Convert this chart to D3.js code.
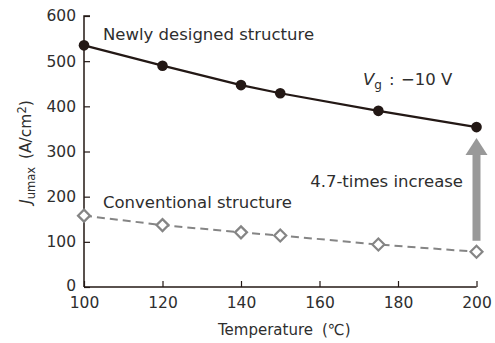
<!DOCTYPE html>
<html>
<head>
<meta charset="utf-8">
<script src="https://cdn.jsdelivr.net/npm/d3@7"></script>
<style>
body { margin: 0; background: #fff; }
text { font-family: "DejaVu Sans", Verdana, sans-serif; fill: #2e2e2e; }
</style>
</head>
<body>
<script>
// data
var temps = [100, 120, 140, 150, 175, 200];
var newValues = [535, 490, 447, 429, 390, 354];
var convValues = [158, 137, 121, 114, 94, 78];
var xTicks = [100, 120, 140, 160, 180, 200];
var yTicks = [0, 100, 200, 300, 400, 500, 600];

var width = 495,
    height = 343;

var svg = d3.select("body").append("svg")
    .attr("width", width)
    .attr("height", height);

var x = d3.scaleLinear().domain([100, 200]).range([84, 476.5]);
var y = d3.scaleLinear().domain([0, 600]).range([287, 16]);

var ink = "#231815",
    grey = "#858585",
    txt = "#2e2e2e";

// axes, ticks point inward
var xAxis = svg.append("g")
    .attr("transform", "translate(0," + y(0) + ")")
    .call(d3.axisBottom(x).tickValues(xTicks).tickSize(-6).tickPadding(10));
var yAxis = svg.append("g")
    .attr("transform", "translate(" + x(100) + ",0)")
    .call(d3.axisLeft(y).tickValues(yTicks).tickSize(-6).tickPadding(8));

[xAxis, yAxis].forEach(function(a) {
    a.select(".domain").attr("stroke", ink).attr("stroke-width", 1.5);
    a.selectAll(".tick line").attr("stroke", ink).attr("stroke-width", 1.2);
    a.selectAll(".tick text").style("font-size", "15.5px").attr("fill", txt)
        .style("font-family", "DejaVu Sans, Verdana, sans-serif");
});
xAxis.select(".domain").attr("d", "M" + x(100) + ",0H" + x(200));
yAxis.select(".domain").attr("d", "M0," + y(0) + "V" + y(600) + "h6");
yAxis.selectAll(".tick").filter(function(d) { return d === 0; })
    .select("text").attr("dy", "0.2em");

// arrow showing the increase
var ax = x(200), aTop = y(newValues[5]) + 11, aBot = y(convValues[5]) - 11;
svg.append("rect")
    .attr("x", ax - 4).attr("y", aTop + 14)
    .attr("width", 8).attr("height", aBot - aTop - 14)
    .attr("fill", "#999");
svg.append("path")
    .attr("d", "M" + ax + "," + aTop + "L" + (ax + 11) + "," + (aTop + 17) +
        "L" + (ax - 11) + "," + (aTop + 17) + "Z")
    .attr("fill", "#999");

// conventional structure
var convPts = temps.map(function(t, i) { return [t, convValues[i]]; });
svg.append("path")
    .datum(convPts)
    .attr("fill", "none")
    .attr("stroke", grey)
    .attr("stroke-width", 2)
    .attr("stroke-dasharray", "8,5")
    .attr("d", d3.line().x(function(d) { return x(d[0]); }).y(function(d) { return y(d[1]); }));
svg.selectAll(".conv")
    .data(convPts)
    .enter().append("path")
    .attr("class", "conv")
    .attr("transform", function(d) { return "translate(" + x(d[0]) + "," + y(d[1]) + ")"; })
    .attr("d", "M0,-6L6,0L0,6L-6,0Z")
    .attr("fill", "#fff")
    .attr("stroke", grey)
    .attr("stroke-width", 2.2);

// newly designed structure
var newPts = temps.map(function(t, i) { return [t, newValues[i]]; });
svg.append("path")
    .datum(newPts)
    .attr("fill", "none")
    .attr("stroke", ink)
    .attr("stroke-width", 2.2)
    .attr("d", d3.line().x(function(d) { return x(d[0]); }).y(function(d) { return y(d[1]); }));
svg.selectAll(".newp")
    .data(newPts)
    .enter().append("circle")
    .attr("class", "newp")
    .attr("cx", function(d) { return x(d[0]); })
    .attr("cy", function(d) { return y(d[1]); })
    .attr("r", 5.3)
    .attr("fill", ink);

// labels
svg.append("text").attr("x", 103).attr("y", 40).style("font-size", "16.5px")
    .text("Newly designed structure");
svg.append("text").attr("x", 103).attr("y", 208).style("font-size", "16.5px")
    .text("Conventional structure");
svg.append("text").attr("x", 463).attr("y", 187).attr("text-anchor", "end")
    .style("font-size", "16.5px").text("4.7-times increase");

var vg = svg.append("text").attr("x", 363).attr("y", 85).style("font-size", "16.5px");
vg.append("tspan").style("font-style", "italic").text("V");
vg.append("tspan").attr("dy", 4).style("font-size", "12px").text("g");
vg.append("tspan").attr("dy", -4).attr("x", 389).text(":");
vg.append("tspan").attr("x", 401).text("\u221210 V");

var xl = svg.append("text").attr("x", 218).attr("y", 335).style("font-size", "15px");
xl.append("tspan").text("Temperature");
xl.append("tspan").attr("x", 322).text("(\u2103)");

var yl = svg.append("text")
    .attr("transform", "translate(31,152) rotate(-90)")
    .attr("text-anchor", "middle")
    .style("font-size", "15.5px");
yl.append("tspan").style("font-style", "italic").text("J");
yl.append("tspan").attr("dy", 4).style("font-size", "11.5px").text("umax");
yl.append("tspan").attr("dy", -4).text("\u2002(A/cm");
yl.append("tspan").attr("dy", -5).style("font-size", "11.5px").text("2");
yl.append("tspan").attr("dy", 5).text(")");
</script>
</body>
</html>
